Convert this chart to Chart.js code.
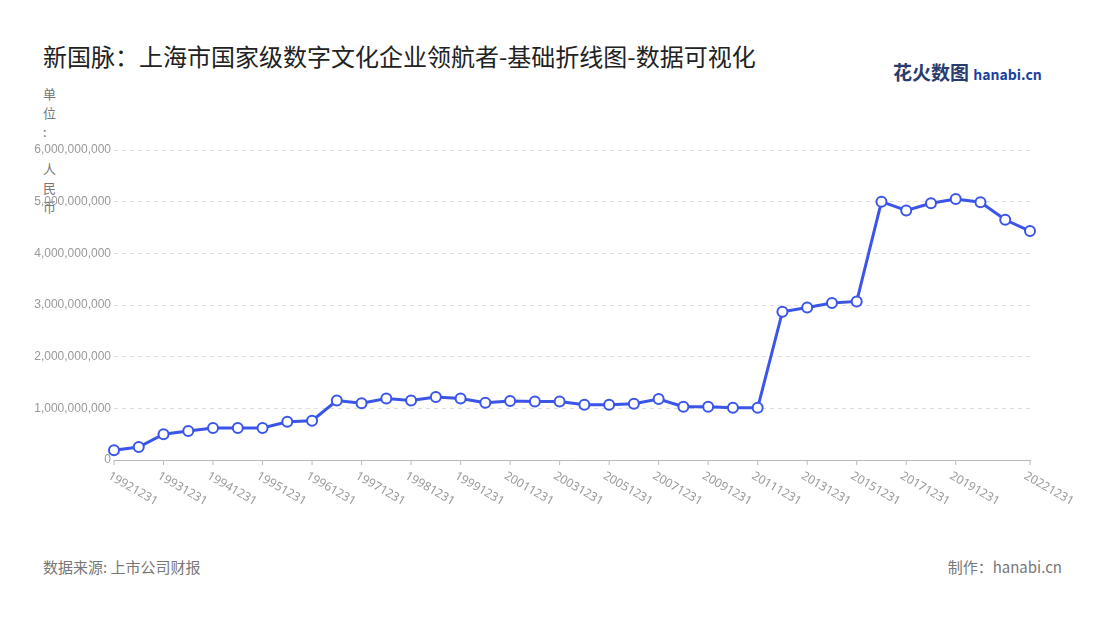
<!DOCTYPE html>
<html><head><meta charset="utf-8">
<script src="https://cdn.jsdelivr.net/npm/chart.js@4"></script>
<style>
body{margin:0;width:1100px;height:620px;background:#fff;font-family:"Noto Sans CJK SC","Noto Sans",sans-serif;position:relative;overflow:hidden}
#t{position:absolute;left:43px;top:38px;font-size:24px;color:#222}
#logo{position:absolute;left:893px;top:58px;font-size:19px;font-weight:bold;color:#2a3b6e}
#logo span{font-size:14px;color:#1b3f9e}
.u{position:absolute;left:43px;font-size:13px;color:#777;line-height:16px}
#src{position:absolute;left:43px;top:556px;font-size:15px;color:#777}
#mk{position:absolute;right:38px;top:556px;font-size:15px;color:#777}
#w{position:absolute;left:0;top:0;width:1100px;height:620px}
</style></head><body>
<div id="t">新国脉：上海市国家级数字文化企业领航者-基础折线图-数据可视化</div>
<div id="logo">花火数图 <span>hanabi.cn</span></div>
<div class="u" style="top:86px">单</div><div class="u" style="top:105px">位</div><div class="u" style="top:124px">:</div>
<div class="u" style="top:161px">人</div><div class="u" style="top:180px">民</div><div class="u" style="top:199px">币</div>
<div id="src">数据来源: 上市公司财报</div>
<div id="mk">制作：hanabi.cn</div>
<div id="w"><canvas id="c" width="1100" height="620"></canvas></div>
<script>
const categories=["19921231","19930630","19931231","19940630","19941231","19950630","19951231","19960630","19961231","19970630","19971231","19980630","19981231","19990630","19991231","20001231","20011231","20021231","20031231","20041231","20051231","20061231","20071231","20081231","20091231","20101231","20111231","20121231","20131231","20141231","20151231","20161231","20171231","20181231","20191231","20201231","20211231","20221231"];
const revenue=[0.19,0.25,0.5,0.56,0.62,0.62,0.62,0.74,0.76,1.15,1.1,1.19,1.15,1.22,1.19,1.11,1.14,1.13,1.13,1.07,1.07,1.09,1.18,1.03,1.03,1.01,1.01,2.87,2.95,3.04,3.07,5.0,4.83,4.97,5.05,4.99,4.65,4.43].map(v=>v*1e9);
const show=i=>(i%2==0&&i<36)||i==37;
const labelPlugin={id:'lbl',afterDraw(ch){const x=ch.scales.x,ctx=ch.ctx,y0=ch.chartArea.bottom;
ctx.save();ctx.font='12px "Noto Sans",sans-serif';ctx.fillStyle='#999';ctx.textBaseline='middle';
categories.forEach((c,i)=>{if(!show(i))return;const px=x.getPixelForValue(i);
ctx.save();ctx.translate(px-5,y0+15);ctx.rotate(Math.PI/6);ctx.fillText(c,0,0);ctx.restore();
ctx.strokeStyle='#bbb';ctx.beginPath();ctx.moveTo(px,y0);ctx.lineTo(px,y0+5);ctx.stroke();});
ctx.restore();}};
new Chart(document.getElementById('c'),{type:'line',plugins:[labelPlugin],
data:{labels:categories,datasets:[{data:revenue,borderColor:'#3a55e8',borderWidth:3,pointBackgroundColor:'#fff',pointBorderColor:'#3a55e8',pointBorderWidth:2,pointRadius:5,tension:0}]},
options:{responsive:false,animation:false,layout:{padding:{left:0,right:70,top:150,bottom:152}},
plugins:{legend:{display:false},tooltip:{enabled:false}},
scales:{x:{offset:false,grid:{display:false},border:{color:'#bbb'},ticks:{display:false}},
y:{min:0,max:6e9,afterFit:s=>{s.width=114},ticks:{stepSize:1e9,color:'#999',font:{size:12},callback:v=>v.toLocaleString('en-US')},grid:{color:'#ddd',tickLength:0},border:{display:false,dash:[4,4]}}}}});
</script></body></html>
